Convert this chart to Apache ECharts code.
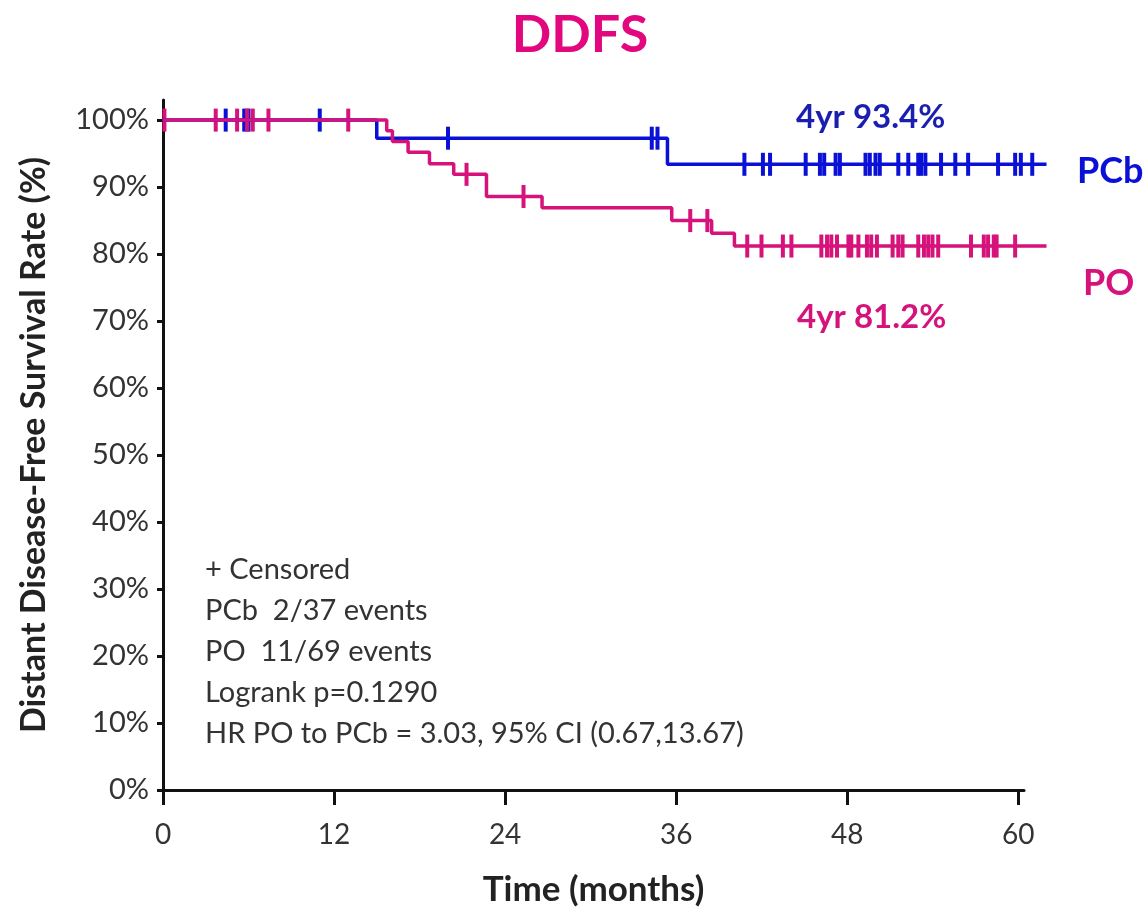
<!DOCTYPE html>
<html lang="en">
<head>
    <meta charset="UTF-8">
    <title>DDFS</title>
    <script src="https://cdn.jsdelivr.net/npm/echarts@6/dist/echarts.min.js"></script>
    <style>
        html, body { margin: 0; padding: 0; background: #fff; }
    </style>
</head>
<body>
    <div id="chart" style="width: 1145px;height: 910px"></div>
<script>
    // Kaplan-Meier steps (months, survival %)
    var pcbTime = [0, 15.0, 35.4, 62];
    var pcbSurv = [100, 97.3, 93.4, 93.4];
    var poTime = [0, 15.7, 16.1, 17.2, 18.7, 20.4, 22.7, 26.6, 35.7, 38.5, 40.1, 62];
    var poSurv = [100, 98.4, 96.8, 95.2, 93.5, 91.9, 88.6, 86.9, 85.0, 83.1, 81.2, 81.2];

    // censored times
    var pcbCensor = [4.4, 5.7, 6.0, 11.0, 20.0, 34.3, 34.7, 40.8, 42.1, 42.6, 45.1, 46.1, 46.4,
        47.2, 47.5, 49.3, 49.6, 50.0, 50.3, 51.6, 52.3, 53.0, 53.2, 53.5, 54.6, 55.6, 56.5,
        58.6, 59.8, 60.2, 61.0];
    var poCensor = [0.1, 3.7, 5.2, 5.9, 6.3, 7.4, 13.0, 21.3, 25.3, 37.0, 38.2, 41.0, 42.0,
        43.5, 44.1, 46.2, 46.6, 46.9, 47.3, 48.1, 48.3, 48.8, 49.4, 49.7, 50.1, 51.2, 51.6,
        51.9, 53.0, 53.4, 53.7, 54.0, 54.4, 56.7, 57.6, 57.9, 58.3, 58.5, 59.8];

    var xTicks = [0, 12, 24, 36, 48, 60];
    var yTicks = [0, 10, 20, 30, 40, 50, 60, 70, 80, 90, 100];

    var statLines = [
        '+ Censored',
        'PCb  2/37 events',
        'PO  11/69 events',
        'Logrank p=0.1290',
        'HR PO to PCb = 3.03, 95% CI (0.67,13.67)'
    ];

    var blue = '#0a10d6';
    var pink = '#d6127b';
    var font = 'Lato, "Open Sans", sans-serif';

    function pairs(t, s) {
        return t.map(function (v, i) { return [v, s[i]]; });
    }
    // value of the step curve at time t (censor marks sit on the curve)
    function survAt(t, times, surv) {
        var v = surv[0];
        for (var i = 0; i < times.length; i++) {
            if (times[i] <= t) v = surv[i];
        }
        return v;
    }
    function censorPts(c, times, surv) {
        return c.map(function (t) { return [t, survAt(t, times, surv)]; });
    }

    var chart = echarts.init(document.getElementById('chart'));

    var statText = statLines.map(function (s, i) {
        return {
            type: 'text',
            left: 205,
            top: 555 + i * 41,
            style: { text: s, font: '29px ' + font, fill: '#333' }
        };
    });

    // grid 0 carries the visible axes (axis line stops just past 60),
    // grid 1 the curves, which run on a bit further to 62 months
    var option = {
        animation: false,
        backgroundColor: '#fff',
        title: {
            text: 'DDFS',
            left: 575,
            top: 4,
            textAlign: 'center',
            textStyle: { color: '#e2077f', fontSize: 52, fontWeight: 'bold', fontFamily: font }
        },
        grid: [
            { left: 163, right: 121, top: 100, bottom: 120, containLabel: false, outerBoundsMode: 'none' },
            { left: 163, right: 98.5, top: 100, bottom: 120, containLabel: false, outerBoundsMode: 'none' }
        ],
        xAxis: [
            {
                type: 'value',
                gridIndex: 0,
                min: 0,
                max: 60.4,
                name: 'Time (months)',
                nameLocation: 'middle',
                nameGap: 82,
                nameTextStyle: { color: '#222', fontSize: 35, fontWeight: 'bold', fontFamily: font },
                splitLine: { show: false },
                axisLine: { lineStyle: { color: '#111', width: 3 } },
                axisTick: { show: true, inside: false, length: 15, customValues: xTicks,
                    lineStyle: { color: '#111', width: 3 } },
                axisLabel: { customValues: xTicks, margin: 31, color: '#333', fontSize: 28, fontFamily: font }
            },
            {
                type: 'value',
                gridIndex: 1,
                min: 0,
                max: 62,
                show: false
            }
        ],
        yAxis: [
            {
                type: 'value',
                gridIndex: 0,
                min: 0,
                max: 103,
                name: 'Distant Disease-Free Survival Rate (%)',
                nameLocation: 'middle',
                nameGap: 112,
                nameRotate: 90,
                nameTextStyle: { color: '#222', fontSize: 34, fontWeight: 'bold', fontFamily: font },
                splitLine: { show: false },
                axisLine: { show: true, lineStyle: { color: '#111', width: 3 } },
                axisTick: { show: true, inside: false, length: 6, customValues: yTicks,
                    lineStyle: { color: '#111', width: 3 } },
                axisLabel: { customValues: yTicks, margin: 14, color: '#333', fontSize: 29, fontFamily: font,
                    formatter: '{value}%' }
            },
            {
                type: 'value',
                gridIndex: 1,
                min: 0,
                max: 103,
                show: false
            }
        ],
        series: [
            {
                name: 'PCb',
                type: 'line',
                xAxisIndex: 1,
                yAxisIndex: 1,
                step: 'end',
                clip: false,
                symbol: 'none',
                data: pairs(pcbTime, pcbSurv),
                lineStyle: { color: blue, width: 3.5 }
            },
            {
                name: 'PO',
                type: 'line',
                xAxisIndex: 1,
                yAxisIndex: 1,
                step: 'end',
                clip: false,
                symbol: 'none',
                data: pairs(poTime, poSurv),
                lineStyle: { color: pink, width: 3.5 }
            },
            {
                type: 'scatter',
                xAxisIndex: 1,
                yAxisIndex: 1,
                clip: false,
                symbol: 'rect',
                symbolSize: [4, 23],
                itemStyle: { color: blue, opacity: 1 },
                data: censorPts(pcbCensor, pcbTime, pcbSurv)
            },
            {
                type: 'scatter',
                xAxisIndex: 1,
                yAxisIndex: 1,
                clip: false,
                symbol: 'rect',
                symbolSize: [4, 23],
                itemStyle: { color: pink, opacity: 1 },
                data: censorPts(poCensor, poTime, poSurv)
            }
        ],
        graphic: statText.concat([
            { type: 'text', left: 796, top: 101,
              style: { text: '4yr 93.4%', font: 'bold 33px ' + font, fill: '#1a1fb0' } },
            { type: 'text', left: 797, top: 301,
              style: { text: '4yr 81.2%', font: 'bold 33px ' + font, fill: pink } },
            { type: 'text', left: 1077, top: 153,
              style: { text: 'PCb', font: 'bold 36px ' + font, fill: blue } },
            { type: 'text', left: 1083, top: 265,
              style: { text: 'PO', font: 'bold 36px ' + font, fill: pink } }
        ])
    };
    chart.setOption(option);
</script>
</body>
</html>
